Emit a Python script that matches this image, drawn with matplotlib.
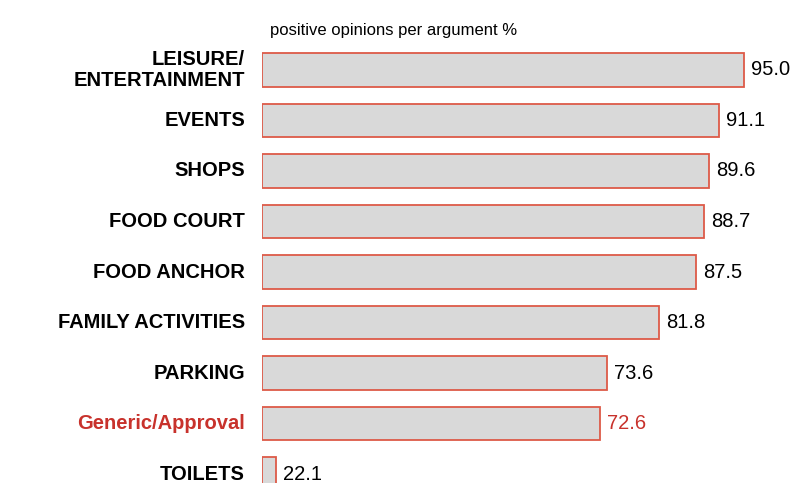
import matplotlib.pyplot as plt

plt.rcParams['font.family'] = ['Liberation Sans', 'DejaVu Sans']

categories = ["LEISURE/\nENTERTAINMENT", "EVENTS", "SHOPS", "FOOD COURT", "FOOD ANCHOR",
              "FAMILY ACTIVITIES", "PARKING", "Generic/Approval", "TOILETS"]
values = [95.0, 91.1, 89.6, 88.7, 87.5, 81.8, 73.6, 72.6, 22.1]
highlight = "Generic/Approval"

red = "#c8322c"
edge = "#dd5a48"

fig = plt.figure(figsize=(7.93, 4.83), dpi=100)
ax = fig.add_axes([262 / 793, 0, (793 - 262) / 793, 1])

pos = list(range(len(values)))
ax.barh(pos, values, left=0, height=0.67, color="#d9d9d9", edgecolor=edge, linewidth=1.3)
ax.set_xlim(20, 102.6)
ax.set_ylim(8.178, -1.386)
# bars start at 20 on the axis
for b in ax.patches:
    b.set_x(20)
    b.set_width(b.get_width() - 20)

for i, (c, v) in enumerate(zip(categories, values)):
    col = red if c == highlight else "black"
    ax.annotate(c, (20, i), xytext=(-17, 0), textcoords="offset pixels", ha="right", va="center",
                fontsize=14.5, fontweight="bold", color=col, linespacing=1.1)
    ax.annotate(f"{v:.1f}", (v, i), xytext=(7, 0), textcoords="offset pixels", ha="left", va="center",
                fontsize=14.5, color=col)

ax.text(270 / 793, 1 - 31 / 483, "positive opinions per argument %", transform=fig.transFigure,
        ha="left", va="center", fontsize=12)

ax.axis("off")
fig.savefig("out.png", dpi=100)
